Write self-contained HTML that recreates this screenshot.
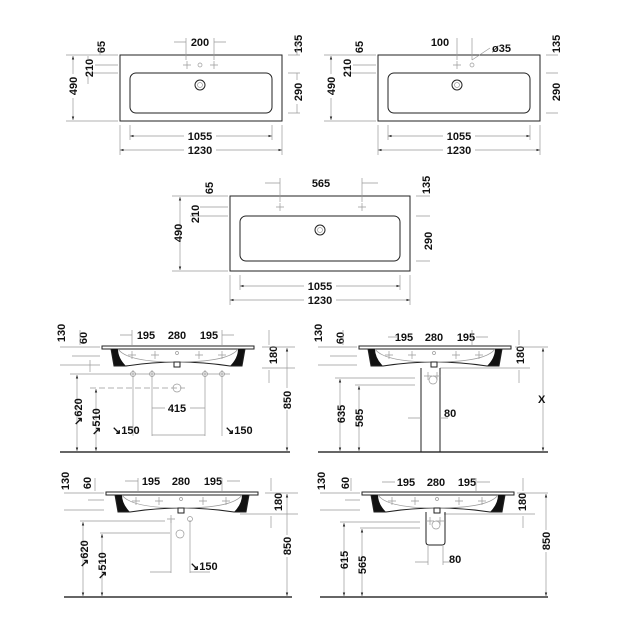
<!DOCTYPE html>
<html><head><meta charset="utf-8"><style>
body{margin:0;background:#fff}
svg{display:block}
text{font-family:"Liberation Sans",sans-serif;font-weight:bold;font-size:11px;fill:#111}
.l{stroke:#222;stroke-width:1;fill:none}
.t{stroke:#999;stroke-width:.7;fill:none}
.d{stroke:#999;stroke-width:.7;fill:none;stroke-dasharray:6 3}
</style></head><body>
<svg width="630" height="630" viewBox="0 0 630 630" xmlns="http://www.w3.org/2000/svg">
<defs>
<marker id="a" viewBox="0 0 6 6" refX="6" refY="3" markerWidth="5" markerHeight="5" orient="auto-start-reverse"><path d="M0,1 L6,3 L0,5z" fill="#222"/></marker>
<g id="tap"><path class="t" d="M-4,0H4M0,-4V4"/></g>
<g id="basin">
<path d="M0,0H152V3H0Z" fill="#fff" stroke="#222" stroke-width="1"/>
<path d="M9,3 L12,20 H24 Q16,12 16,3Z" fill="#111"/>
<path d="M143,3 L140,20 H128 Q136,12 136,3Z" fill="#111"/>
<path class="l" d="M9,3 L12,20 H24 Q75,12 128,20 H140 L143,3"/>
<path class="t" d="M16,3 Q25,16 75,16 Q127,16 136,3"/>
<rect x="72" y="16" width="6" height="5" fill="#fff" stroke="#222"/>
<use href="#tap" x="30" y="9"/><use href="#tap" x="53" y="9"/><use href="#tap" x="97" y="9"/><use href="#tap" x="120" y="9"/>
<circle cx="75" cy="7" r="1.5" class="t"/>
</g>
</defs>

<!-- Panel A -->
<rect x="120" y="55" width="162" height="66" class="l"/>
<rect x="130" y="73" width="142" height="40" rx="6" class="l"/>
<use href="#tap" x="187" y="65"/><circle cx="200" cy="65" r="2" class="t"/><use href="#tap" x="214" y="65"/>
<circle cx="200" cy="85" r="5" class="l"/><circle cx="200" cy="85" r="2.5" class="t"/>
<path class="t" d="M186,38V60M214,38V60M174,42H186M214,42H226"/>
<text x="200" y="46" text-anchor="middle">200</text>
<path class="t" d="M120,125V155M282,125V155M130,125V140M272,125V140"/>
<line x1="130" y1="136" x2="272" y2="136" class="t" marker-start="url(#a)" marker-end="url(#a)"/>
<line x1="120" y1="150" x2="282" y2="150" class="t" marker-start="url(#a)" marker-end="url(#a)"/>
<rect x="184" y="130" width="32" height="11" fill="#fff"/><text x="200" y="140" text-anchor="middle">1055</text>
<rect x="184" y="144" width="32" height="11" fill="#fff"/><text x="200" y="154" text-anchor="middle">1230</text>
<path class="t" d="M66,55H118M66,121H118M95,65H118M85,73H118"/>
<line x1="73" y1="56" x2="73" y2="120" class="t" marker-start="url(#a)" marker-end="url(#a)"/>
<rect x="67" y="74" width="12" height="24" fill="#fff"/><text transform="translate(77,86) rotate(-90)" text-anchor="middle">490</text>
<text transform="translate(93,68) rotate(-90)" text-anchor="middle">210</text>
<text transform="translate(105,47) rotate(-90)" text-anchor="middle">65</text>
<path class="t" d="M88,56V60M88,76V84M100,44V55"/>
<text transform="translate(302,44) rotate(-90)" text-anchor="middle">135</text>
<text transform="translate(302,92) rotate(-90)" text-anchor="middle">290</text>
<path class="t" d="M288,55H300M288,73H300M288,113H300M297,40V55M297,73V80M297,104V113"/>

<!-- Panel B -->
<rect x="378" y="55" width="162" height="66" class="l"/>
<rect x="388" y="73" width="142" height="40" rx="6" class="l"/>
<use href="#tap" x="457" y="65"/><circle cx="472" cy="65" r="2" class="t"/>
<circle cx="457" cy="85" r="5" class="l"/><circle cx="457" cy="85" r="2.5" class="t"/>
<path class="t" d="M457,38V60M472,38V60M472,60L490,48"/>
<text x="440" y="46" text-anchor="middle">100</text>
<text x="492" y="52">ø35</text>
<path class="t" d="M378,125V155M540,125V155M388,125V140M530,125V140"/>
<line x1="388" y1="136" x2="530" y2="136" class="t" marker-start="url(#a)" marker-end="url(#a)"/>
<line x1="378" y1="150" x2="540" y2="150" class="t" marker-start="url(#a)" marker-end="url(#a)"/>
<rect x="443" y="130" width="32" height="11" fill="#fff"/><text x="459" y="140" text-anchor="middle">1055</text>
<rect x="443" y="144" width="32" height="11" fill="#fff"/><text x="459" y="154" text-anchor="middle">1230</text>
<path class="t" d="M324,55H376M324,121H376M353,65H376M343,73H376"/>
<line x1="331" y1="56" x2="331" y2="120" class="t" marker-start="url(#a)" marker-end="url(#a)"/>
<rect x="325" y="74" width="12" height="24" fill="#fff"/><text transform="translate(335,86) rotate(-90)" text-anchor="middle">490</text>
<text transform="translate(351,68) rotate(-90)" text-anchor="middle">210</text>
<text transform="translate(363,47) rotate(-90)" text-anchor="middle">65</text>
<text transform="translate(560,44) rotate(-90)" text-anchor="middle">135</text>
<text transform="translate(560,92) rotate(-90)" text-anchor="middle">290</text>
<path class="t" d="M546,55H558M546,73H558M546,113H558"/>

<!-- Panel C -->
<rect x="230" y="196" width="180" height="75" class="l"/>
<rect x="240" y="216" width="160" height="45" rx="6" class="l"/>
<use href="#tap" x="280" y="207"/><use href="#tap" x="362" y="207"/>
<circle cx="320" cy="230" r="5" class="l"/><circle cx="320" cy="230" r="2.5" class="t"/>
<path class="t" d="M280,178V202M362,178V202M265,183H280M362,183H378"/>
<text x="321" y="187" text-anchor="middle">565</text>
<path class="t" d="M230,275V305M410,275V305M240,275V290M400,275V290"/>
<line x1="240" y1="286" x2="400" y2="286" class="t" marker-start="url(#a)" marker-end="url(#a)"/>
<line x1="230" y1="300" x2="410" y2="300" class="t" marker-start="url(#a)" marker-end="url(#a)"/>
<rect x="304" y="280" width="32" height="11" fill="#fff"/><text x="320" y="290" text-anchor="middle">1055</text>
<rect x="304" y="294" width="32" height="11" fill="#fff"/><text x="320" y="304" text-anchor="middle">1230</text>
<path class="t" d="M172,196H228M172,271H228M200,207H228M190,216H228"/>
<line x1="180" y1="197" x2="180" y2="270" class="t" marker-start="url(#a)" marker-end="url(#a)"/>
<text transform="translate(182,233) rotate(-90)" text-anchor="middle">490</text>
<text transform="translate(199,214) rotate(-90)" text-anchor="middle">210</text>
<text transform="translate(213,188) rotate(-90)" text-anchor="middle">65</text>
<text transform="translate(430,185) rotate(-90)" text-anchor="middle">135</text>
<text transform="translate(432,241) rotate(-90)" text-anchor="middle">290</text>
<path class="t" d="M416,196H430M416,216H430M416,261H430"/>

<!-- Panel D -->
<use href="#basin" x="102" y="346"/>
<line x1="60" y1="452" x2="290" y2="452" stroke="#333" stroke-width="1.5"/>
<text transform="translate(65,333) rotate(-90)" text-anchor="middle">130</text>
<text transform="translate(87,338) rotate(-90)" text-anchor="middle">60</text>
<path class="t" d="M60,347H100M72,356H100M60,365H100M80,330V345M90,360V372"/>
<text x="146" y="339" text-anchor="middle">195</text><text x="177" y="339" text-anchor="middle">280</text><text x="209" y="339" text-anchor="middle">195</text>
<path class="t" d="M120,335H132M222,335H234M132,330V345M222,330V345"/>
<text transform="translate(277,355) rotate(-90)" text-anchor="middle">180</text>
<path class="t" d="M262,347H295M262,368H295M269,330V345M269,370V383"/>
<line x1="287" y1="348" x2="287" y2="451" class="t" marker-start="url(#a)" marker-end="url(#a)"/>
<rect x="281" y="388" width="12" height="22" fill="#fff"/><text transform="translate(291,400) rotate(-90)" text-anchor="middle">850</text>
<circle cx="133" cy="374" r="2.5" class="t"/><circle cx="152" cy="374" r="2.5" class="t"/><circle cx="205" cy="374" r="2.5" class="t"/><circle cx="222" cy="374" r="2.5" class="t"/>
<path class="t" d="M133,370V436M152,370V436M205,370V436M222,370V436M70,374H230"/>
<circle cx="177" cy="388" r="4" class="t"/><path class="d" d="M90,388H185"/>
<line x1="77" y1="375" x2="77" y2="451" class="t" marker-start="url(#a)" marker-end="url(#a)"/>
<line x1="96" y1="389" x2="96" y2="451" class="t" marker-start="url(#a)" marker-end="url(#a)"/>
<text transform="translate(82,412) rotate(-90)" text-anchor="middle">↘620</text>
<text transform="translate(100,422) rotate(-90)" text-anchor="middle">↘510</text>
<text x="177" y="412" text-anchor="middle">415</text>
<path class="t" d="M152,408H165M190,408H205"/>
<text x="112" y="434">↘150</text><text x="225" y="434">↘150</text>
<path class="t" d="M152,435H205"/>

<!-- Panel E -->
<use href="#basin" x="359" y="346"/>
<line x1="318" y1="452" x2="548" y2="452" stroke="#333" stroke-width="1.5"/>
<text transform="translate(322,333) rotate(-90)" text-anchor="middle">130</text>
<text transform="translate(344,338) rotate(-90)" text-anchor="middle">60</text>
<path class="t" d="M318,347H357M330,356H357M318,365H357M343,330V345"/>
<text x="404" y="341" text-anchor="middle">195</text><text x="434" y="341" text-anchor="middle">280</text><text x="466" y="341" text-anchor="middle">195</text>
<path class="t" d="M388,337H398M472,330V345M476,337H488"/>
<text transform="translate(524,355) rotate(-90)" text-anchor="middle">180</text>
<path class="t" d="M515,347H548M440,368H530M519,330V345M519,370V383"/>
<line x1="543" y1="348" x2="543" y2="451" class="t" marker-start="url(#a)" marker-end="url(#a)"/>
<text x="538" y="403">X</text>
<path class="l" d="M421,368V452M440,368V452"/>
<circle cx="433" cy="380" r="4" class="t"/><use href="#tap" x="428" y="376"/><use href="#tap" x="437" y="376"/>
<path class="t" d="M335,378H415M355,385H415"/>
<line x1="340" y1="379" x2="340" y2="451" class="t" marker-start="url(#a)" marker-end="url(#a)"/>
<line x1="359" y1="386" x2="359" y2="451" class="t" marker-start="url(#a)" marker-end="url(#a)"/>
<text transform="translate(345,414) rotate(-90)" text-anchor="middle">635</text>
<text transform="translate(363,418) rotate(-90)" text-anchor="middle">585</text>
<path class="t" d="M408,418H421M440,418H448"/>
<text x="444" y="417">80</text>

<!-- Panel F -->
<use href="#basin" x="106" y="492"/>
<line x1="64" y1="597" x2="292" y2="597" stroke="#333" stroke-width="1.5"/>
<text transform="translate(69,481) rotate(-90)" text-anchor="middle">130</text>
<text transform="translate(91,483) rotate(-90)" text-anchor="middle">60</text>
<path class="t" d="M64,493H104M88,500H104M64,510H104M95,478V491"/>
<text x="151" y="485" text-anchor="middle">195</text><text x="181" y="485" text-anchor="middle">280</text><text x="213" y="485" text-anchor="middle">195</text>
<path class="t" d="M125,481H138M227,481H240M138,478V491M222,478V491"/>
<text transform="translate(282,502) rotate(-90)" text-anchor="middle">180</text>
<path class="t" d="M265,493H298M240,514H298M271,478V491M271,516V528"/>
<line x1="287" y1="494" x2="287" y2="596" class="t" marker-start="url(#a)" marker-end="url(#a)"/>
<rect x="281" y="535" width="12" height="22" fill="#fff"/><text transform="translate(291,546) rotate(-90)" text-anchor="middle">850</text>
<use href="#tap" x="171" y="519"/><circle cx="190" cy="519" r="2.5" class="t"/>
<path class="t" d="M80,521H165M171,520V573M190,520V573M100,533H170"/>
<circle cx="180" cy="534" r="4" class="t"/>
<line x1="83" y1="522" x2="83" y2="596" class="t" marker-start="url(#a)" marker-end="url(#a)"/>
<line x1="102" y1="534" x2="102" y2="596" class="t" marker-start="url(#a)" marker-end="url(#a)"/>
<text transform="translate(88,554) rotate(-90)" text-anchor="middle">↘620</text>
<text transform="translate(106,566) rotate(-90)" text-anchor="middle">↘510</text>
<path class="t" d="M150,572H171M190,572H210"/>
<text x="190" y="570">↘150</text>

<!-- Panel G -->
<use href="#basin" x="362" y="492"/>
<line x1="320" y1="597" x2="548" y2="597" stroke="#333" stroke-width="1.5"/>
<text transform="translate(325,481) rotate(-90)" text-anchor="middle">130</text>
<text transform="translate(349,483) rotate(-90)" text-anchor="middle">60</text>
<path class="t" d="M320,493H360M345,500H360M320,510H360M351,478V491"/>
<text x="406" y="486" text-anchor="middle">195</text><text x="436" y="486" text-anchor="middle">280</text><text x="467" y="486" text-anchor="middle">195</text>
<path class="t" d="M382,482H395M477,482H490M476,478V491"/>
<text transform="translate(526,502) rotate(-90)" text-anchor="middle">180</text>
<path class="t" d="M517,493H548M444,514H535M523,478V491M523,516V528"/>
<line x1="546" y1="494" x2="546" y2="596" class="t" marker-start="url(#a)" marker-end="url(#a)"/>
<rect x="540" y="530" width="12" height="22" fill="#fff"/><text transform="translate(550,541) rotate(-90)" text-anchor="middle">850</text>
<path class="l" d="M426,512V542Q426,545 429,545H442Q445,545 445,542V512"/>
<circle cx="436" cy="525" r="4" class="t"/><use href="#tap" x="430" y="521"/><use href="#tap" x="440" y="521"/>
<path class="t" d="M340,522H420M360,528H420M428,546V565M443,546V565"/>
<line x1="344" y1="523" x2="344" y2="596" class="t" marker-start="url(#a)" marker-end="url(#a)"/>
<line x1="362" y1="529" x2="362" y2="596" class="t" marker-start="url(#a)" marker-end="url(#a)"/>
<text transform="translate(348,560) rotate(-90)" text-anchor="middle">615</text>
<text transform="translate(366,565) rotate(-90)" text-anchor="middle">565</text>
<path class="t" d="M415,562H428M443,562H452"/>
<text x="449" y="563">80</text>
</svg>
</body></html>
